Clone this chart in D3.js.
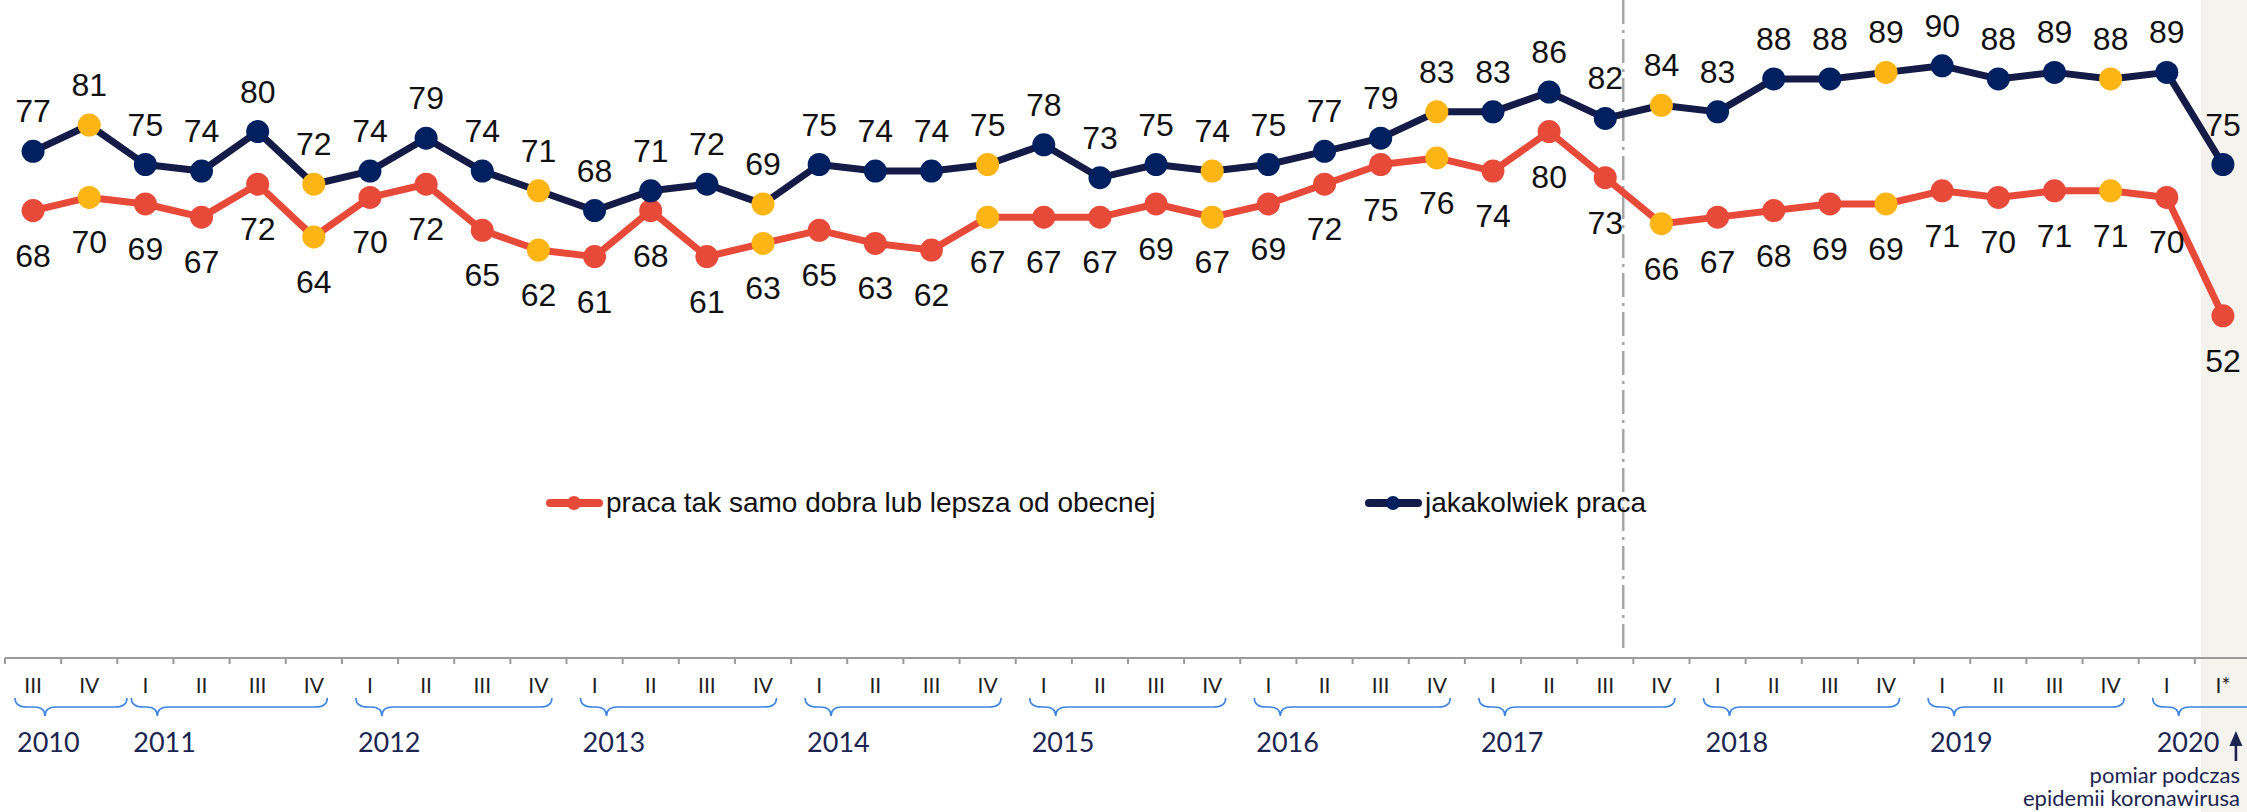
<!DOCTYPE html>
<html>
<head>
<meta charset="utf-8">
<script src="https://cdn.jsdelivr.net/npm/d3@7"></script>
<style>
    body { margin: 0; background: #fff; }
</style>
</head>
<body>
<div id="chart"></div>
<script>
// quarter labels along the x axis (2010 III ... 2020 I*)
const quarterLabels = [
    "III","IV",
    "I","II","III","IV",
    "I","II","III","IV",
    "I","II","III","IV",
    "I","II","III","IV",
    "I","II","III","IV",
    "I","II","III","IV",
    "I","II","III","IV",
    "I","II","III","IV",
    "I","II","III","IV",
    "I","I*"
];
const yearLabels = ["2010","2011","2012","2013","2014","2015","2016","2017","2018","2019","2020"];
const yearQuarters = [2,4,4,4,4,4,4,4,4,4,2];

// series values
const anyJob = [77,81,75,74,80,72,74,79,74,71,68,71,72,69,75,74,74,75,78,73,75,74,75,77,79,83,83,86,82,84,83,88,88,89,90,88,89,88,89,75];
const goodJob = [68,70,69,67,72,64,70,72,65,62,61,68,61,63,65,63,62,67,67,67,69,67,69,72,75,76,74,80,73,66,67,68,69,69,71,70,71,71,70,52];

const seriesNames = ["praca tak samo dobra lub lepsza od obecnej", "jakakolwiek praca"];
const breakAfter = 28; // 2017 III, methodology change marker
const noteLines = ["pomiar podczas", "epidemii koronawirusa"];

const width = 2247;
const height = 812;
const axisY = 658;

const redColor = "#E84A3A";
const navyLine = "#141B47";
const navyDot = "#002060";
const yellow = "#FDB515";
const textColor = "#111";
const yearColor = "#1B2550";
const braceColor = "#3D85E0";

const svg = d3.select("#chart")
    .append("svg")
    .attr("width", width)
    .attr("height", height)
    .style("font-family", "'Liberation Sans', Arial, sans-serif");

const x = d3.scaleBand()
    .domain(d3.range(quarterLabels.length))
    .range([5, 2251])
    .padding(0);
const bw = x.bandwidth();
const cx = (i) => x(i) + bw / 2;

const y = d3.scaleLinear()
    .domain([0, 100])
    .range([axisY, 0]);

// shaded column for the last (pandemic) measurement
const last = quarterLabels.length - 1;
svg.append("rect")
    .attr("x", x(last) + 6)
    .attr("y", 0)
    .attr("width", width - x(last) - 6)
    .attr("height", height)
    .attr("fill", "#F4F3EE");

// dash-dot vertical separator
svg.append("line")
    .attr("x1", cx(breakAfter) + bw * 0.32)
    .attr("x2", cx(breakAfter) + bw * 0.32)
    .attr("y1", 0)
    .attr("y2", axisY - 5)
    .attr("stroke", "#A6A6A6")
    .attr("stroke-width", 2.5)
    .attr("stroke-dasharray", "24,6,3,6");

// x axis line + boundary ticks
svg.append("line")
    .attr("x1", x.range()[0])
    .attr("x2", width)
    .attr("y1", axisY)
    .attr("y2", axisY)
    .attr("stroke", "#9A9A9A")
    .attr("stroke-width", 2);

svg.append("g")
    .selectAll("line")
    .data(d3.range(quarterLabels.length + 1))
    .enter()
    .append("line")
    .attr("x1", (d) => x.range()[0] + d * bw)
    .attr("x2", (d) => x.range()[0] + d * bw)
    .attr("y1", axisY)
    .attr("y2", axisY + 6)
    .attr("stroke", "#9A9A9A")
    .attr("stroke-width", 2);

// quarter labels
svg.append("g")
    .selectAll("text")
    .data(quarterLabels)
    .enter()
    .append("text")
    .attr("x", (d, i) => cx(i))
    .attr("y", axisY + 35)
    .attr("text-anchor", "middle")
    .style("font-family", "Lato, sans-serif")
    .style("font-size", "21px")
    .style("fill", "#1e1e1e")
    .text((d) => d);

// year braces + labels
let startIdx = 0;
yearLabels.forEach((yr, k) => {
    const n = yearQuarters[k];
    const x0 = x(startIdx) + (k === 0 ? 10 : 14);
    const x1 = Math.min(x0 + (n === 4 ? 196 : 112), width + 20);
    const tip = x(startIdx) + 40;
    const yTop = axisY + 40, yMid = axisY + 49, yTip = axisY + 58;

    const p = d3.path();
    p.moveTo(x0, yTop);
    p.quadraticCurveTo(x0, yMid, x0 + 12, yMid);
    p.lineTo(tip - 11, yMid);
    p.quadraticCurveTo(tip, yMid, tip, yTip);
    p.quadraticCurveTo(tip, yMid, tip + 11, yMid);
    p.lineTo(x1 - 12, yMid);
    p.quadraticCurveTo(x1, yMid, x1, yTop);

    svg.append("path")
        .attr("d", p.toString())
        .attr("fill", "none")
        .attr("stroke", braceColor)
        .attr("stroke-width", 1.6);

    svg.append("text")
        .attr("x", x0 + (k === yearLabels.length - 1 ? 4 : 2))
        .attr("y", axisY + 94)
        .style("font-family", "Lato, sans-serif")
        .style("font-size", "27px")
        .style("fill", yearColor)
        .text(yr);

    startIdx += n;
});

// arrow + note under the last measurement
const ax = cx(last) + 13;
svg.append("line")
    .attr("x1", ax).attr("x2", ax)
    .attr("y1", axisY + 103).attr("y2", axisY + 84)
    .attr("stroke", yearColor)
    .attr("stroke-width", 2.6);
svg.append("path")
    .attr("d", `M${ax - 6.5},${axisY + 88} L${ax},${axisY + 73} L${ax + 6.5},${axisY + 88} Z`)
    .attr("fill", yearColor);

svg.append("g")
    .selectAll("text")
    .data(noteLines)
    .enter()
    .append("text")
    .attr("x", ax + 4)
    .attr("y", (d, i) => axisY + 125 + i * 23)
    .attr("text-anchor", "end")
    .style("font-family", "Lato, sans-serif")
    .style("font-size", "22px")
    .style("fill", yearColor)
    .text((d) => d);

// series lines
const line = d3.line()
    .x((d, i) => cx(i))
    .y((d) => y(d));

function drawSeries(values, lineColor, dotColor, labelDy) {
    svg.append("path")
        .datum(values)
        .attr("d", line)
        .attr("fill", "none")
        .attr("stroke", lineColor)
        .attr("stroke-width", 7)
        .attr("stroke-linejoin", "round");

    svg.append("g")
        .selectAll("circle")
        .data(values)
        .enter()
        .append("circle")
        .attr("cx", (d, i) => cx(i))
        .attr("cy", (d) => y(d))
        .attr("r", 11.5)
        .attr("fill", (d, i) => quarterLabels[i] === "IV" ? yellow : dotColor);

    svg.append("g")
        .selectAll("text")
        .data(values)
        .enter()
        .append("text")
        .attr("x", (d, i) => cx(i))
        .attr("y", (d) => y(d) + labelDy)
        .attr("text-anchor", "middle")
        .style("font-size", "32px")
        .style("fill", textColor)
        .text((d) => d);
}

drawSeries(goodJob, redColor, redColor, 56);
drawSeries(anyJob, navyLine, navyDot, -29);

// legend
const legendY = 503;
const legendItems = [
    { name: seriesNames[0], color: redColor, dot: redColor, x: 546 },
    { name: seriesNames[1], color: navyLine, dot: navyDot, x: 1365 },
];
legendItems.forEach((it) => {
    svg.append("line")
        .attr("x1", it.x + 4).attr("x2", it.x + 53)
        .attr("y1", legendY).attr("y2", legendY)
        .attr("stroke", it.color)
        .attr("stroke-width", 8)
        .attr("stroke-linecap", "round");
    svg.append("circle")
        .attr("cx", it.x + 28)
        .attr("cy", legendY)
        .attr("r", 7)
        .attr("fill", it.dot);
    svg.append("text")
        .attr("x", it.x + 60)
        .attr("y", legendY + 9)
        .style("font-size", "28px")
        .style("fill", textColor)
        .text(it.name);
});
</script>
</body>
</html>
